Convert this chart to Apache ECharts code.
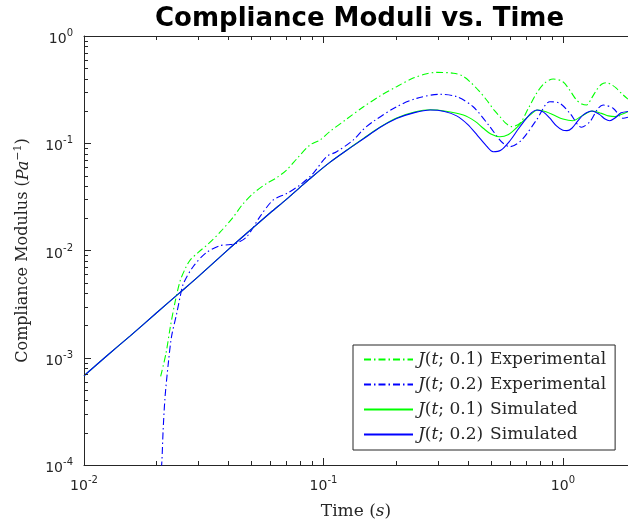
<!DOCTYPE html>
<html><head><meta charset="utf-8">
<script src="https://cdn.jsdelivr.net/npm/echarts@6/dist/echarts.min.js"></script>
<style>html,body{margin:0;padding:0;background:#fff}#c{width:628px;height:527px}</style>
</head><body><div id="c"></div>
<script>
// ---- data ----
const titleText = 'Compliance Moduli vs. Time';
const xMin = 0.01, xMax = 1.87, yMin = 1e-4, yMax = 1;

const expG_t = [0.0209,0.0220,0.0229,0.0240,0.0252,0.0265,0.0277,0.0300,0.0330,0.0370,0.0420,0.0460,0.0509,0.0580,0.0640,0.0702,0.078,0.0878,0.0966,0.106,0.125,0.147,0.172,0.202,0.237,0.27,0.297,0.349,0.380,0.409,0.445,0.48,0.515,0.546,0.575,0.61,0.661,0.72,0.776,0.84,0.911,1.0,1.07,1.14,1.20,1.256,1.32,1.383,1.45,1.52,1.60,1.675,1.76,1.87];
const expG_J = [6.7e-4,1.1e-3,1.9e-3,3.3e-3,5.2e-3,6.8e-3,8.1e-3,9.6e-3,0.0115,0.0148,0.0205,0.0270,0.0341,0.0423,0.048,0.0563,0.073,0.0963,0.107,0.128,0.168,0.219,0.275,0.337,0.405,0.445,0.458,0.450,0.425,0.375,0.310,0.253,0.205,0.177,0.155,0.143,0.153,0.215,0.292,0.365,0.397,0.375,0.310,0.253,0.232,0.227,0.265,0.314,0.355,0.367,0.350,0.325,0.290,0.258];

const expB_t = [0.0205,0.0211,0.0214,0.0218,0.0225,0.0232,0.0244,0.0252,0.026,0.0286,0.0325,0.037,0.040,0.0434,0.0478,0.0543,0.0617,0.0702,0.0798,0.0906,0.103,0.1135,0.133,0.147,0.161,0.202,0.245,0.306,0.36,0.422,0.495,0.535,0.563,0.601,0.672,0.776,0.883,0.971,1.07,1.196,1.297,1.40,1.473,1.62,1.786,1.87];
const expB_J = [5e-5,1.0e-4,2.1e-4,4.3e-4,8.9e-4,1.57e-3,2.6e-3,3.7e-3,4.9e-3,7.1e-3,9.6e-3,0.0111,0.0113,0.0117,0.0134,0.0207,0.0296,0.034,0.0408,0.0525,0.075,0.0834,0.107,0.135,0.159,0.219,0.262,0.286,0.272,0.219,0.143,0.113,0.100,0.093,0.107,0.165,0.244,0.236,0.190,0.141,0.159,0.210,0.227,0.212,0.171,0.175];

const simB_t = [0.01,0.0125,0.0156,0.02,0.025,0.03,0.04,0.05,0.06,0.07,0.08,0.09,0.106,0.125,0.147,0.172,0.202,0.24,0.279,0.32,0.36,0.40,0.44,0.48,0.511,0.55,0.60,0.65,0.70,0.74,0.778,0.83,0.88,0.94,1.0,1.04,1.09,1.15,1.22,1.32,1.42,1.50,1.57,1.65,1.75,1.87];
const simB_J = [6.8e-4,1.05e-3,1.6e-3,2.6e-3,4.0e-3,5.7e-3,0.0102,0.0158,0.0225,0.0300,0.0390,0.0490,0.066,0.086,0.110,0.140,0.170,0.193,0.204,0.198,0.180,0.150,0.118,0.094,0.0834,0.086,0.105,0.135,0.168,0.193,0.204,0.195,0.172,0.145,0.132,0.131,0.138,0.160,0.185,0.200,0.186,0.168,0.162,0.172,0.192,0.198];

const simG_t = [0.01,0.0125,0.0156,0.02,0.025,0.03,0.04,0.05,0.06,0.07,0.08,0.09,0.106,0.125,0.147,0.172,0.202,0.24,0.279,0.32,0.384,0.43,0.465,0.50,0.546,0.59,0.637,0.68,0.728,0.785,0.85,0.92,1.0,1.10,1.20,1.33,1.45,1.55,1.65,1.75,1.87];
const simG_J = [6.8e-4,1.05e-3,1.6e-3,2.6e-3,4.0e-3,5.7e-3,0.0102,0.0158,0.0225,0.0300,0.0390,0.0490,0.066,0.086,0.111,0.141,0.172,0.195,0.205,0.200,0.183,0.160,0.138,0.122,0.115,0.120,0.138,0.160,0.183,0.204,0.197,0.182,0.168,0.162,0.180,0.200,0.190,0.180,0.177,0.185,0.197];

const xMinorTicks = [0.02,0.03,0.04,0.05,0.06,0.07,0.08,0.09,0.2,0.3,0.4,0.5,0.6,0.7,0.8,0.9];
const yMinorTicks = [2e-4,3e-4,4e-4,5e-4,6e-4,7e-4,8e-4,9e-4,2e-3,3e-3,4e-3,5e-3,6e-3,7e-3,8e-3,9e-3,0.02,0.03,0.04,0.05,0.06,0.07,0.08,0.09,0.2,0.3,0.4,0.5,0.6,0.7,0.8,0.9];

const seriesNames = ['J(t; 0.1) Experimental','J(t; 0.2) Experimental','J(t; 0.1) Simulated','J(t; 0.2) Simulated'];
const legendRich = {
  'J(t; 0.1) Experimental': '{i|J}({i|t}; 0.1){g| }Experimental',
  'J(t; 0.2) Experimental': '{i|J}({i|t}; 0.2){g| }Experimental',
  'J(t; 0.1) Simulated': '{i|J}({i|t}; 0.1){g| }Simulated',
  'J(t; 0.2) Simulated': '{i|J}({i|t}; 0.2){g| }Simulated'
};

// ---- chart ----
const zip = (a,b) => a.map((v,i)=>[v,b[i]]);
const AX = '#262626';
const GREEN = '#00ff00', BLUE = '#0000ff';
const DASHDOT = [7,3,1.5,3];
const supLabel = v => '{b|10}{s|' + Math.round(Math.log10(v)) + '}';
const labelRich = {
  b: {fontSize: 14, fontFamily: 'DejaVu Sans', color: AX, verticalAlign: 'bottom', lineHeight: 15},
  s: {fontSize: 10, fontFamily: 'DejaVu Sans', color: AX, verticalAlign: 'bottom', lineHeight: 11, padding: [0,0,8,0]}
};

const chart = echarts.init(document.getElementById('c'), null, {renderer: 'canvas'});
const baseAxis = {
  type: 'log', logBase: 10,
  axisLine: {show: true, onZero: false, lineStyle: {color: AX, width: 1}},
  axisTick: {show: true, inside: true, length: 7, lineStyle: {color: AX}},
  splitLine: {show: false},
  minorTick: {show: false},
  minorSplitLine: {show: false}
};
chart.setOption({
  animation: false,
  backgroundColor: '#fff',
  title: {
    text: titleText, left: 150, top: 1,
    textStyle: {fontFamily: 'DejaVu Sans', fontWeight: 'bold', fontSize: 26, color: '#000'}
  },
  grid: {left: 84, right: 0, top: 36, bottom: 62, containLabel: false},
  xAxis: [
    Object.assign({}, baseAxis, {
      position: 'bottom', min: xMin, max: xMax,
      name: 'Time ({i|s})', nameLocation: 'middle', nameGap: 38,
      nameTextStyle: {fontFamily: 'DejaVu Serif', fontSize: 17, color: AX,
        rich: {i: {fontFamily: 'DejaVu Serif', fontStyle: 'italic', fontSize: 17, color: AX}}},
      axisLabel: {show: true, margin: 13, formatter: supLabel, rich: labelRich, showMaxLabel: false}
    }),
    Object.assign({}, baseAxis, {
      position: 'top', min: xMin, max: xMax, axisLabel: {show: false}
    })
  ],
  yAxis: [
    Object.assign({}, baseAxis, {
      position: 'left', min: yMin, max: yMax,
      name: 'Compliance Modulus ({i|Pa}{s|−1})', nameLocation: 'middle', nameGap: 52, nameRotate: 90,
      nameTextStyle: {fontFamily: 'DejaVu Serif', fontSize: 16, color: AX,
        rich: {
          i: {fontFamily: 'DejaVu Serif', fontStyle: 'italic', fontSize: 16, color: AX, verticalAlign: 'bottom', lineHeight: 18},
          s: {fontFamily: 'DejaVu Serif', fontSize: 11, color: AX, verticalAlign: 'bottom', lineHeight: 12, padding: [0,0,8,0]}
        }},
      axisLabel: {show: true, margin: 11, padding: [6,0,0,0], formatter: supLabel, rich: labelRich}
    })
  ],
  legend: {
    data: seriesNames,
    orient: 'vertical', left: 353, top: 345,
    padding: [6, 9, 7, 10],
    itemWidth: 49, itemHeight: 14, itemGap: 8,
    borderColor: AX, borderWidth: 1, backgroundColor: '#fff',
    itemStyle: {opacity: 0},
    textStyle: {fontFamily: 'DejaVu Serif', fontSize: 17, color: AX, lineHeight: 16,
      rich: {
        i: {fontFamily: 'DejaVu Serif', fontStyle: 'italic', fontSize: 17, color: AX},
        g: {fontFamily: 'DejaVu Serif', fontSize: 17, width: 7}
      }},
    formatter: n => legendRich[n]
  },
  series: [
    {name: seriesNames[0], type: 'line', data: zip(expG_t, expG_J), symbol: 'none', smooth: 0.3,
      lineStyle: {color: GREEN, width: 1.1, type: DASHDOT}, itemStyle: {color: GREEN}, z: 2},
    {name: seriesNames[1], type: 'line', data: zip(expB_t, expB_J), symbol: 'none', smooth: 0.3,
      lineStyle: {color: BLUE, width: 1.1, type: DASHDOT}, itemStyle: {color: BLUE}, z: 3},
    {name: seriesNames[2], type: 'line', data: zip(simG_t, simG_J), symbol: 'none', smooth: 0.3,
      lineStyle: {color: GREEN, width: 1.1}, itemStyle: {color: GREEN}, z: 4},
    {name: seriesNames[3], type: 'line', data: zip(simB_t, simB_J), symbol: 'none', smooth: 0.3,
      lineStyle: {color: BLUE, width: 1.1}, itemStyle: {color: BLUE}, z: 5},
    {type: 'custom', name: 'xminor', silent: true, z: 10,
      data: xMinorTicks.map(v => [v, 0.5]),
      renderItem: (params, api) => {
        const cs = params.coordSys;
        const x = Math.round(api.coord([api.value(0), 0.5])[0]) + 0.5;
        return {type: 'group', children: [
          {type: 'line', shape: {x1: x, y1: cs.y + cs.height, x2: x, y2: cs.y + cs.height - 4}, style: {stroke: AX, lineWidth: 1}},
          {type: 'line', shape: {x1: x, y1: cs.y, x2: x, y2: cs.y + 4}, style: {stroke: AX, lineWidth: 1}}
        ]};
      }},
    {type: 'custom', name: 'yminor', silent: true, z: 10,
      data: yMinorTicks.map(v => [0.1, v]),
      renderItem: (params, api) => {
        const cs = params.coordSys;
        const y = Math.round(api.coord([0.1, api.value(1)])[1]) + 0.5;
        return {type: 'line', shape: {x1: cs.x, y1: y, x2: cs.x + 4, y2: y}, style: {stroke: AX, lineWidth: 1}};
      }}
  ]
});
</script></body></html>
